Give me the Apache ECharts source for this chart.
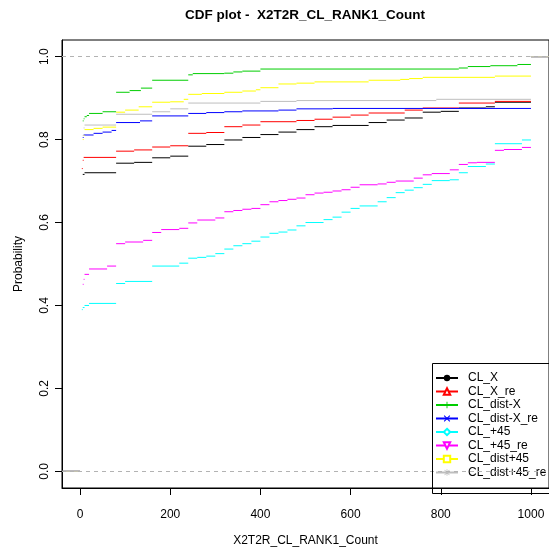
<!DOCTYPE html>
<html><head><meta charset="utf-8">
<script src="https://cdn.jsdelivr.net/npm/echarts@6/dist/echarts.min.js"></script>
<style>html,body{margin:0;padding:0;background:#fff}#c{width:549px;height:548px}</style>
</head><body><div id="c"></div>
<script>
const seriesNames = ['CL_X','CL_X_re','CL_dist-X','CL_dist-X_re','CL_+45','CL_+45_re','CL_dist+45','CL_dist+45_re'];
const CL_X_x = [0,1,2,3,4,5,6,10,80,120,160,200,240,280,320,360,400,440,480,520,560,640,680,720,760,800,840,900,920,1000];
const CL_X_y = [0.615,0.655,0.685,0.700,0.709,0.712,0.716,0.720,0.743,0.745,0.756,0.760,0.784,0.788,0.799,0.805,0.812,0.818,0.824,0.831,0.834,0.841,0.847,0.852,0.866,0.868,0.876,0.879,0.890,1.0];
const CL_X_re_x = [0,1,2,3,4,6,8,80,120,160,200,240,280,320,360,400,480,520,560,600,640,720,760,840,920,1000];
const CL_X_re_y = [0.586,0.642,0.671,0.700,0.730,0.750,0.757,0.772,0.775,0.782,0.785,0.815,0.817,0.831,0.835,0.843,0.846,0.849,0.854,0.859,0.864,0.871,0.876,0.888,0.892,1.0];
const CL_distX_x = [0,1,2,3,4,5,6,8,10,15,20,50,80,110,135,160,240,250,320,340,360,400,840,860,910,970,1000];
const CL_distX_y = [0.606,0.695,0.760,0.800,0.820,0.835,0.845,0.850,0.855,0.858,0.863,0.867,0.914,0.918,0.924,0.943,0.956,0.959,0.960,0.963,0.965,0.970,0.9725,0.976,0.978,0.981,1.0];
const CL_distX_re_x = [0,1,2,3,4,5,6,8,30,50,70,80,133,160,240,280,320,360,440,480,560,1000];
const CL_distX_re_y = [0.635,0.700,0.740,0.770,0.790,0.800,0.805,0.811,0.815,0.818,0.822,0.841,0.845,0.857,0.863,0.865,0.867,0.869,0.871,0.874,0.875,1.0];
const CL_p45_x = [0,1,2,3,4,6,10,20,80,100,160,220,240,260,280,300,320,340,360,380,400,420,440,460,480,500,540,560,580,600,620,660,680,700,720,740,760,780,820,840,860,900,920,980,1000];
const CL_p45_y = [0.370,0.375,0.380,0.385,0.390,0.395,0.400,0.405,0.453,0.458,0.495,0.502,0.514,0.516,0.519,0.525,0.536,0.544,0.549,0.555,0.565,0.574,0.577,0.582,0.592,0.600,0.607,0.613,0.625,0.634,0.640,0.650,0.660,0.672,0.678,0.684,0.692,0.701,0.703,0.720,0.735,0.741,0.790,0.799,1.0];
const CL_p45_re_x = [0,1,2,3,4,5,6,8,10,20,60,80,100,140,160,180,220,240,260,300,320,340,360,380,400,420,440,460,480,500,520,540,560,580,600,620,660,680,700,740,760,780,820,840,860,880,920,940,980,1000];
const CL_p45_re_y = [0.321,0.354,0.375,0.405,0.420,0.437,0.451,0.463,0.475,0.488,0.495,0.549,0.553,0.557,0.576,0.583,0.586,0.599,0.606,0.611,0.626,0.629,0.632,0.634,0.643,0.650,0.653,0.656,0.659,0.667,0.671,0.673,0.676,0.679,0.685,0.691,0.693,0.697,0.700,0.707,0.715,0.718,0.727,0.740,0.744,0.745,0.774,0.776,0.781,1.0];
const CL_distp45_x = [0,1,2,3,4,5,6,8,10,30,50,80,100,130,160,200,230,240,270,320,360,390,400,440,480,520,640,710,730,760,920,1000];
const CL_distp45_y = [0.491,0.570,0.650,0.720,0.760,0.790,0.800,0.810,0.824,0.827,0.830,0.866,0.871,0.879,0.890,0.891,0.897,0.909,0.911,0.914,0.917,0.920,0.925,0.934,0.936,0.939,0.943,0.945,0.947,0.950,0.953,1.0];
const CL_distp45_re_x = [0,1,2,3,4,5,6,8,10,80,160,200,240,400,480,790,1000];
const CL_distp45_re_y = [0.464,0.529,0.600,0.657,0.720,0.780,0.810,0.828,0.835,0.861,0.867,0.874,0.888,0.892,0.894,0.897,1.0];

const xTicks = [0,200,400,600,800,1000];
const yTicks = [0,0.2,0.4,0.6,0.8,1.0];
const XMIN = -40, XMAX = 1040, YMIN = -0.04, YMAX = 1.04;

const colors = ['#000000','#FF0000','#00CD00','#0000FF','#00FFFF','#FF00FF','#FFFF00','#BEBEBE'];
const PLUS = 'path://M4.3,0H5.7V10H4.3Z M0,4.3H10V5.7H0Z';
const CROSS = 'path://M0.5,1.5L1.5,0.5L9.5,8.5L8.5,9.5Z M8.5,0.5L9.5,1.5L1.5,9.5L0.5,8.5Z';
const STAR = 'path://M4.4,0H5.6V10H4.4Z M0,4.4H10V5.6H0Z M0.8,1.6L1.6,0.8L9.2,8.4L8.4,9.2Z M8.4,0.8L9.2,1.6L1.6,9.2L0.8,8.4Z';
const symbols = ['circle','emptyTriangle',PLUS,CROSS,'emptyDiamond','emptyTriangle','emptyRect',STAR];
const rotates = [0,0,0,0,0,180,0,0];
const allX = [CL_X_x,CL_X_re_x,CL_distX_x,CL_distX_re_x,CL_p45_x,CL_p45_re_x,CL_distp45_x,CL_distp45_re_x];
const allY = [CL_X_y,CL_X_re_y,CL_distX_y,CL_distX_re_y,CL_p45_y,CL_p45_re_y,CL_distp45_y,CL_distp45_re_y];

function segs(xs, ys) {
  const d = [[XMIN, 0], [xs[0], 0], [xs[0], '-']];
  for (let i = 0; i < xs.length; i++) {
    const x1 = i + 1 < xs.length ? xs[i + 1] : XMAX;
    d.push([xs[i], ys[i]], [x1, ys[i]], [x1, '-']);
  }
  return d;
}
const FONT = '"Liberation Sans", Arial, sans-serif';

const series = seriesNames.map((n, i) => {
  const s = {
    name: n, type: 'line', data: segs(allX[i], allY[i]),
    showSymbol: false, symbol: symbols[i], symbolRotate: rotates[i],
    connectNulls: false, silent: true, animation: false,
    lineStyle: { color: colors[i], width: 1 },
    itemStyle: { color: colors[i] }
  };
  if (i === 0) {
    s.markLine = {
      silent: true, symbol: 'none', label: { show: false },
      lineStyle: { color: '#B3B3B3', type: [4, 4], width: 1 },
      data: [{ yAxis: 0 }, { yAxis: 1 }]
    };
  }
  return s;
});

const chart = echarts.init(document.getElementById('c'));
chart.setOption({
  backgroundColor: '#fff',
  animation: false,
  title: {
    text: 'CDF plot -  X2T2R_CL_RANK1_Count', left: 300, textAlign: 'center', top: 3,
    textStyle: { fontFamily: FONT, fontSize: 13.5, fontWeight: 'bold', color: '#000' }
  },
  grid: { left: 62, top: 40, right: 0, bottom: 60, show: true, borderColor: '#000', borderWidth: 1,
    backgroundColor: 'transparent', containLabel: false, outerBoundsMode: 'none' },
  xAxis: {
    type: 'value', min: XMIN, max: XMAX,
    axisLine: { show: true, onZero: false, lineStyle: { color: '#000', width: 1 } },
    axisTick: { show: true, inside: false, length: 7, customValues: xTicks, lineStyle: { color: '#000', width: 1 } },
    axisLabel: { customValues: xTicks, margin: 21, fontSize: 12, color: '#000', fontFamily: FONT,
      formatter: v => String(v) },
    splitLine: { show: false },
    name: 'X2T2R_CL_RANK1_Count', nameLocation: 'middle', nameGap: 47,
    nameTextStyle: { fontSize: 12, color: '#000', fontFamily: FONT }
  },
  yAxis: {
    type: 'value', min: YMIN, max: YMAX,
    axisLine: { show: true, onZero: false, lineStyle: { color: '#000', width: 1 } },
    axisTick: { show: true, inside: false, length: 7, customValues: yTicks, lineStyle: { color: '#000', width: 1 } },
    axisLabel: { customValues: yTicks, rotate: 90, margin: 11, fontSize: 12, color: '#000', fontFamily: FONT,
      formatter: v => v.toFixed(1) },
    splitLine: { show: false },
    name: 'Probability', nameLocation: 'middle', nameGap: 37,
    nameTextStyle: { fontSize: 12, color: '#000', fontFamily: FONT }
  },
  legend: {
    data: seriesNames, orient: 'vertical', left: 435, top: 372, padding: 0,
    itemWidth: 22, itemHeight: 8, itemGap: 1.5,
    textStyle: { fontSize: 12, color: '#000', fontFamily: FONT, padding: [0, 0, 0, 5] },
    selectedMode: false
  },
  graphic: [{
    type: 'rect', z: 100, silent: true,
    shape: { x: 432.5, y: 363.5, width: 130, height: 130 },
    style: { fill: 'none', stroke: '#000', lineWidth: 1 }
  }],
  series: series
});
</script></body></html>
